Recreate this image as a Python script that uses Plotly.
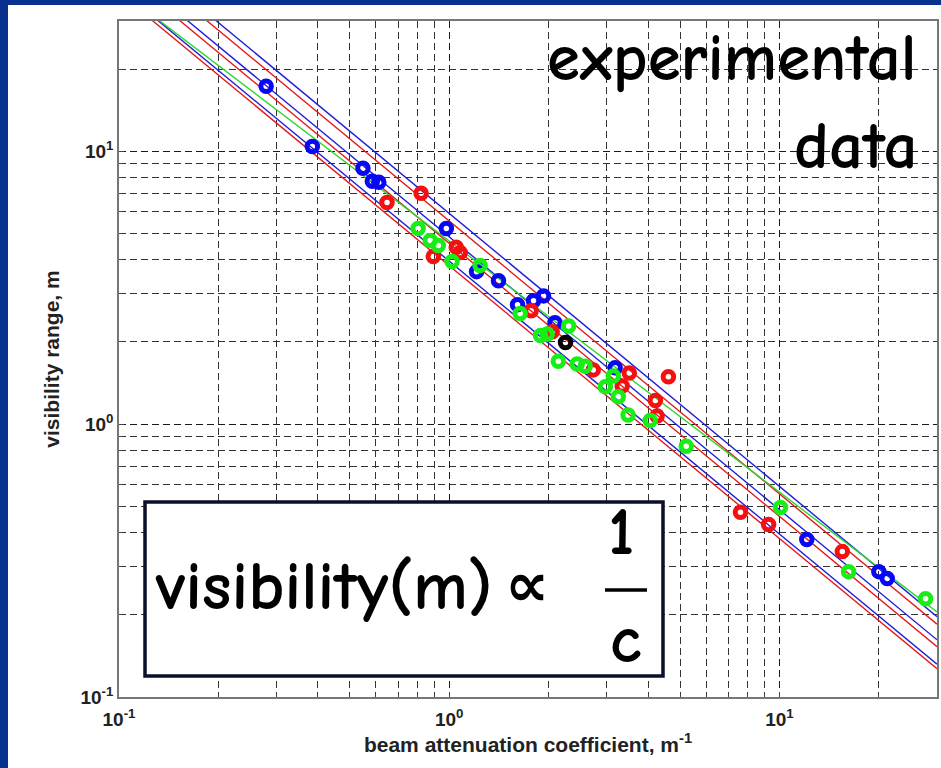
import plotly.graph_objects as go

# ---------------- data ----------------
blue_x = [0.279, 0.385, 0.548, 0.585, 0.612, 0.98, 1.21, 1.41, 1.61, 1.80, 1.93, 2.09, 3.18, 12.1, 20.0, 21.2]
blue_y = [17.3, 10.4, 8.66, 7.76, 7.70, 5.21, 3.62, 3.35, 2.74, 2.83, 2.95, 2.35, 1.61, 0.378, 0.288, 0.272]

red_x = [0.648, 0.822, 0.895, 1.05, 1.08, 1.77, 2.05, 2.73, 3.34, 3.51, 4.21, 4.26, 4.61, 7.62, 9.27, 15.5]
red_y = [6.49, 7.01, 4.11, 4.45, 4.25, 2.60, 2.18, 1.58, 1.38, 1.54, 1.22, 1.07, 1.49, 0.475, 0.429, 0.341]

green_x = [0.805, 0.876, 0.927, 1.02, 1.24, 1.64, 1.89, 1.98, 2.14, 2.30, 2.44, 2.58, 2.97, 3.14, 3.25, 3.48, 4.06, 5.22, 10.07, 16.2, 27.7]
green_y = [5.21, 4.71, 4.51, 3.94, 3.81, 2.54, 2.11, 2.14, 1.70, 2.29, 1.66, 1.63, 1.37, 1.50, 1.26, 1.08, 1.03, 0.83, 0.495, 0.288, 0.229]

black_x = [2.25]
black_y = [1.99]

# fitted lines: end points at x = 0.1 and x = 30
line_x = [0.1, 30]
red_lines_y = [[38.0, 0.127], [46.0, 0.153], [55.5, 0.185]]
blue_lines_y = [[39.5, 0.132], [48.5, 0.162], [59.2, 0.197]]
green_line_y = [39.0, 0.205]

decade_vals = [0.1, 1, 10]
decade_text = ["10<sup>-1</sup>", "10<sup>0</sup>", "10<sup>1</sup>"]
minor_vals = [0.2, 0.3, 0.4, 0.5, 0.6, 0.7, 0.8, 0.9, 2, 3, 4, 5, 6, 7, 8, 9, 20, 30]

# ---------------- figure ----------------
BLUE_L = "#1f1fd8"
RED_L = "#e31a1c"
GREEN_L = "#2ed62e"

fig = go.Figure()

for ys in red_lines_y:
    fig.add_trace(go.Scatter(x=line_x, y=ys, mode="lines",
                             line=dict(color=RED_L, width=1.4), showlegend=False, hoverinfo="skip"))
for ys in blue_lines_y:
    fig.add_trace(go.Scatter(x=line_x, y=ys, mode="lines",
                             line=dict(color=BLUE_L, width=1.4), showlegend=False, hoverinfo="skip"))
fig.add_trace(go.Scatter(x=line_x, y=green_line_y, mode="lines",
                         line=dict(color=GREEN_L, width=1.4), showlegend=False, hoverinfo="skip"))

def pts(xs, ys, col):
    fig.add_trace(go.Scatter(x=xs, y=ys, mode="markers", showlegend=False,
                             marker=dict(symbol="circle-open", size=10.5, color=col,
                                         line=dict(color=col, width=5))))

pts(blue_x, blue_y, "#0808f5")
pts(red_x, red_y, "#f51010")
pts(green_x, green_y, "#16ee16")
pts(black_x, black_y, "#000000")

L, R, T, B = 119, 4, 21, 71
W, H = 941, 768
pw, ph = W - L - R, H - T - B

def px(xp):
    return (xp - L) / pw

def py(yp):
    return (H - B - yp) / ph

tickfont = dict(family="Liberation Sans, Arial", size=19, color="#222222", weight="bold")
titlefont = dict(family="Liberation Sans, Arial", size=21, color="#222222", weight="bold")
grid_major = dict(showgrid=True, gridcolor="#1a1a1a", griddash="7px,4px", gridwidth=1.4)
minor = dict(tickvals=minor_vals, showgrid=True, gridcolor="#333333",
             griddash="7px,4px", gridwidth=1.3, ticks="inside", ticklen=3, tickcolor="#444")

fig.update_xaxes(type="log", range=[-1, 1.4771], tickmode="array", tickvals=decade_vals,
                 ticktext=decade_text, tickfont=tickfont, **grid_major,
                 showline=True, linecolor="#777777", linewidth=1.5, mirror=True,
                 ticks="inside", ticklen=5, tickcolor="#444", minor=minor,
                 zeroline=False, ticklabelstandoff=4,
                 title=dict(text="beam attenuation coefficient, m<sup>-1</sup>",
                            font=titlefont, standoff=9))
fig.update_yaxes(type="log", range=[-1, 1.4771], tickmode="array", tickvals=decade_vals,
                 ticktext=decade_text, tickfont=tickfont, **grid_major,
                 showline=True, linecolor="#777777", linewidth=1.5, mirror=True,
                 ticks="inside", ticklen=5, tickcolor="#444", minor=minor,
                 zeroline=False,
                 title=dict(text="visibility range, m", font=titlefont, standoff=15))

shapes = [
    # white slide area
    dict(type="rect", xref="paper", yref="paper", layer="below",
         x0=px(8), x1=px(945), y0=py(772), y1=py(5),
         fillcolor="white", line=dict(width=0)),
    # formula box
    dict(type="rect", xref="paper", yref="paper", layer="above",
         x0=px(145), x1=px(663), y0=py(676), y1=py(502),
         fillcolor="white", line=dict(color="#0a0f2a", width=3.5)),
    # fraction bar
    dict(type="line", xref="paper", yref="paper", layer="above",
         x0=px(605), x1=px(647), y0=py(590), y1=py(590),
         line=dict(color="black", width=3.5)),
]

hand = "Comic Sans MS, Comic Neue, DejaVu Sans"
big = dict(family=hand, size=67, color="black", weight="bold")
annotations = [
    dict(text="experimental", xref="paper", yref="paper", x=px(919), y=py(58),
         xanchor="right", yanchor="middle", showarrow=False, font=big),
    dict(text="data", xref="paper", yref="paper", x=px(919), y=py(146),
         xanchor="right", yanchor="middle", showarrow=False, font=big),
    dict(text="visibility(m)", xref="paper", yref="paper", x=px(153), y=py(586),
         xanchor="left", yanchor="middle", showarrow=False,
         font=dict(family=hand, size=69, color="black", weight="bold")),
    dict(text="\u221d", xref="paper", yref="paper", x=px(527), y=py(586),
         xanchor="center", yanchor="middle", showarrow=False,
         font=dict(family=hand, size=62, color="black", weight="bold")),
    dict(text="1", xref="paper", yref="paper", x=px(621), y=py(532),
         xanchor="center", yanchor="middle", showarrow=False, font=big),
    dict(text="c", xref="paper", yref="paper", x=px(626), y=py(640),
         xanchor="center", yanchor="middle", showarrow=False, font=big),
]

fig.update_layout(width=W, height=H, margin=dict(l=L, r=R, t=T, b=B, autoexpand=False),
                  paper_bgcolor="#07318f", plot_bgcolor="white",
                  shapes=shapes, annotations=annotations, showlegend=False)

fig.write_html("out.html", config={"displayModeBar": False},
               post_script="document.body.style.margin='0';")
